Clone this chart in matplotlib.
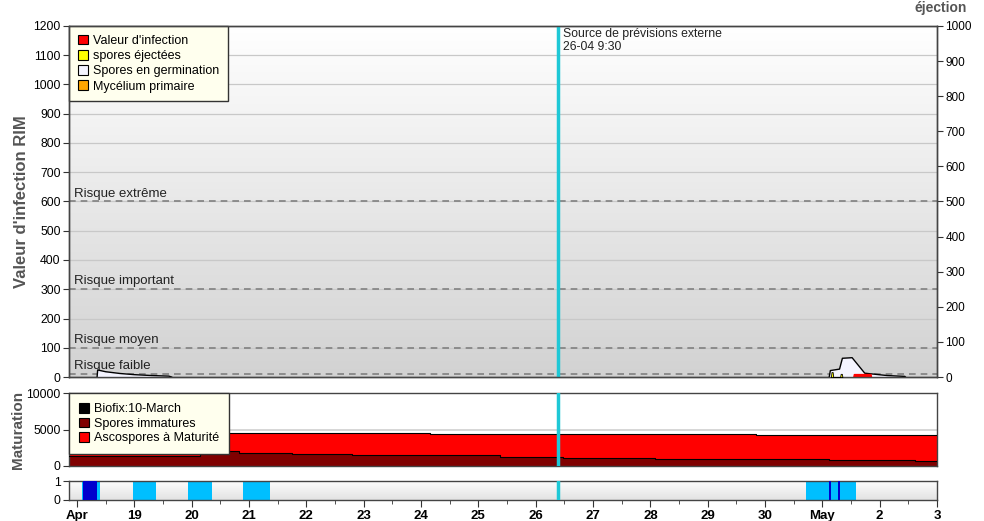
import numpy as np
import matplotlib
matplotlib.use("Agg")
import matplotlib.pyplot as plt
from matplotlib.patches import Patch
from matplotlib.colors import LinearSegmentedColormap

plt.rcParams['font.family'] = ['Liberation Sans', 'DejaVu Sans']

# ---------------- data (x = day number: 18 = 18 April, 31 = 1 May) -------------
day_ticks = list(range(18, 34))
day_labels = ['Apr', '19', '20', '21', '22', '23', '24', '25', '26', '27', '28',
              '29', '30', 'May', '2', '3']
x_start, x_end = 17.86, 33.0
forecast_day = 26.396          # 26-04 9:30

# Spores en germination (left axis, RIM)
germ1_days = [18.35, 18.36, 18.5, 18.75, 19.0, 19.3, 19.6, 19.65]
germ1_vals = [0, 24, 18, 12, 8, 5, 3, 0]
germ2_days = [31.12, 31.14, 31.30, 31.35, 31.52, 31.74, 32.13, 32.44, 32.45]
germ2_vals = [0, 22, 27, 64, 66, 13, 5, 2, 0]

# Valeur d'infection
inf_days = [31.54, 31.55, 31.84, 31.85]
inf_vals = [0, 10, 10, 0]

# spores éjectées (right axis)
ej_days = [31.15, 31.16, 31.18, 31.19, 31.31, 31.32, 31.34, 31.35]
ej_vals = [0, 14, 14, 0, 0, 9, 9, 0]

# Risk thresholds
risk_labels = ['Risque faible', 'Risque moyen', 'Risque important', 'Risque extrême']
risk_values = [10, 100, 300, 600]

# Maturation (step values)
imm_edges = [17.86, 20.15, 20.83, 21.75, 22.80, 24.28, 25.38, 26.48, 28.08, 31.12, 32.62, 33.0]
imm_vals = [1400, 2050, 1820, 1690, 1550, 1470, 1270, 1140, 1000, 820, 690]
tot_edges = [17.86, 24.16, 29.84, 33.0]
tot_vals = [4480, 4340, 4200]

# Wetness periods
light_spans = [(18.09, 18.40), (18.98, 19.38), (19.94, 20.35), (20.90, 21.37), (30.72, 31.59)]
dark_spans = [(18.11, 18.35), (31.11, 31.145), (31.275, 31.31)]

# ---------------- colours ----------------
c_red = '#ff0000'
c_darkred = '#800000'
c_cyan = '#1ec8d6'
c_lblue = '#00bfff'
c_dblue = '#0000cd'
c_label = '#555555'
legend_bg = '#ffffee'

fig = plt.figure(figsize=(9.84, 5.21), dpi=100)

W = 984.0; H = 521.0
def rect(l, t, r, b):
    return [l / W, 1 - b / H, (r - l) / W, (b - t) / H]

ax1 = fig.add_axes(rect(69, 26, 937, 377))
ax2 = fig.add_axes(rect(69, 393, 937, 466))
ax3 = fig.add_axes(rect(69, 481, 937, 500))

grad = np.linspace(0, 1, 256).reshape(-1, 1)

# ---------- top panel ----------
cmap_top = LinearSegmentedColormap.from_list('g', ['#ffffff', '#d2d2d2'])
ax1.imshow(grad, extent=[0, 1, 0, 1], origin='upper', transform=ax1.transAxes,
           aspect='auto', cmap=cmap_top, zorder=0)
ax1.set_xlim(x_start, x_end)
ax1.set_ylim(0, 1200)
ax1.set_yticks(range(0, 1201, 100))
ax1.grid(axis='y', color='#c8c8c8', lw=0.9, zorder=1)
for lbl, v in zip(risk_labels, risk_values):
    ax1.axhline(v, color='#808080', lw=1.2, ls=(0, (4, 3)), zorder=2)
    ax1.text(x_start + 0.08, v + 6, lbl, fontsize=9.5, color='#222222',
             va='bottom', ha='left', zorder=3)

ax1.fill_between(germ1_days, germ1_vals, color='#f4f4ff', zorder=4)
ax1.plot(germ1_days, germ1_vals, color='black', lw=1, zorder=5)
ax1.fill_between(germ2_days, germ2_vals, color='#f4f4ff', zorder=4)
ax1.plot(germ2_days, germ2_vals, color='black', lw=1, zorder=5)
ax1.fill_between(inf_days, inf_vals, color=c_red, zorder=6)

ax1r = ax1.twinx()
ax1r.set_ylim(0, 1000)
ax1r.set_yticks(range(0, 1001, 100))
ax1r.fill_between(ej_days, ej_vals, color='#ffff00', edgecolor='black', lw=0.6, zorder=6)
ax1r.tick_params(axis='y', labelsize=8.5, length=4, direction='out', color='#333333', pad=2)

ax1.axvline(forecast_day, color=c_cyan, lw=2.5, zorder=8)
ax1.text(forecast_day + 0.08, 1193, 'Source de prévisions externe\n26-04 9:30',
         fontsize=8.8, va='top', ha='left', color='#222222', zorder=9, linespacing=1.1)

ax1.tick_params(axis='y', labelsize=8.8, length=4, direction='out', color='#333333', pad=2)
ax1.tick_params(axis='x', bottom=False, labelbottom=False)
ax1.set_ylabel("Valeur d'infection RIM", fontsize=12, fontweight='bold', color=c_label)
ax1.yaxis.set_label_coords(-0.046, 0.5)
fig.text(967 / W, 1 - 8 / H, 'éjection', fontsize=10, fontweight='bold', color=c_label,
         ha='right', va='center')

leg_kw = dict(loc='upper left', bbox_to_anchor=(0, 1), borderaxespad=0, fontsize=9,
              fancybox=False, framealpha=1, facecolor=legend_bg, edgecolor='#333333',
              handlelength=0.8, handleheight=0.8, handletextpad=0.4, labelspacing=0.25,
              borderpad=0.7)
leg1 = ax1.legend(handles=[Patch(facecolor=c_red, edgecolor='black', lw=0.8, label="Valeur d'infection"),
                           Patch(facecolor='#ffff00', edgecolor='black', lw=0.8, label='spores éjectées'),
                           Patch(facecolor='#f4f4ff', edgecolor='black', lw=0.8, label='Spores en germination'),
                           Patch(facecolor='#ffa500', edgecolor='black', lw=0.8, label='Mycélium primaire')],
                  **leg_kw)
leg1.set_zorder(20)

# ---------- maturation panel ----------
edges = np.array(sorted(set(imm_edges) | set(tot_edges)))
imm_step = np.array(imm_vals + [imm_vals[-1]])
tot_step = np.array(tot_vals + [tot_vals[-1]])
imm_on = imm_step[np.clip(np.searchsorted(imm_edges, edges, side='right') - 1, 0, len(imm_vals))]
tot_on = tot_step[np.clip(np.searchsorted(tot_edges, edges, side='right') - 1, 0, len(tot_vals))]

ax2.set_xlim(x_start, x_end)
ax2.set_ylim(0, 10000)
ax2.set_yticks([0, 5000, 10000])
ax2.axhline(5000, color='#d0d0d0', lw=1.2, zorder=1)
ax2.fill_between(edges, imm_on, tot_on, step='post', color=c_red, zorder=2, lw=0)
ax2.fill_between(edges, 0, imm_on, step='post', color=c_darkred, zorder=2, lw=0)
ax2.step(edges, tot_on, where='post', color='black', lw=0.8, zorder=3)
ax2.step(edges, imm_on, where='post', color='black', lw=0.8, zorder=3)
ax2.axvline(forecast_day, color=c_cyan, lw=2.5, zorder=8)
ax2.tick_params(axis='y', labelsize=8.8, length=4, direction='out', color='#333333', pad=2)
ax2.tick_params(axis='x', bottom=False, labelbottom=False)
ax2.set_ylabel('Maturation', fontsize=11, fontweight='bold', color=c_label)
ax2.yaxis.set_label_coords(-0.051, 0.5)
leg_kw2 = dict(leg_kw)
leg_kw2['labelspacing'] = 0.2
leg_kw2['borderpad'] = 0.8
leg2 = ax2.legend(handles=[Patch(facecolor='black', edgecolor='black', lw=0.8, label='Biofix:10-March'),
                           Patch(facecolor=c_darkred, edgecolor='black', lw=0.8, label='Spores immatures'),
                           Patch(facecolor=c_red, edgecolor='black', lw=0.8, label='Ascospores à Maturité')],
                  **leg_kw2)
leg2.set_zorder(20)

# ---------- wetness panel ----------
cmap_bot = LinearSegmentedColormap.from_list('g2', ['#ffffff', '#e2e2e2'])
ax3.imshow(grad, extent=[0, 1, 0, 1], origin='upper', transform=ax3.transAxes,
           aspect='auto', cmap=cmap_bot, zorder=0)
ax3.set_xlim(x_start, x_end)
ax3.set_ylim(0, 1)
ax3.set_yticks([0, 1])
ax3.bar([s for s, e in light_spans], [1] * len(light_spans),
        width=[e - s for s, e in light_spans], align='edge', color=c_lblue, lw=0, zorder=2)
ax3.bar([s for s, e in dark_spans], [1] * len(dark_spans),
        width=[e - s for s, e in dark_spans], align='edge', color=c_dblue, lw=0, zorder=3)
ax3.axvline(forecast_day, color=c_cyan, lw=2.5, zorder=8)
ax3.set_xticks(day_ticks)
ax3.set_xticklabels(day_labels, fontsize=9.5, fontweight='bold')
ax3.set_xticks(np.arange(18.5, 33, 1), minor=True)
ax3.tick_params(axis='y', labelsize=8.8, length=4, direction='out', color='#333333', pad=2)
ax3.tick_params(axis='x', which='major', length=5, direction='out', color='#333333', pad=2)
ax3.tick_params(axis='x', which='minor', length=3, direction='out', color='#333333')

for ax in (ax1, ax2, ax3, ax1r):
    for sp in ax.spines.values():
        sp.set_color('#444444')
        sp.set_linewidth(1.0)

fig.savefig('out.png', dpi=100)
